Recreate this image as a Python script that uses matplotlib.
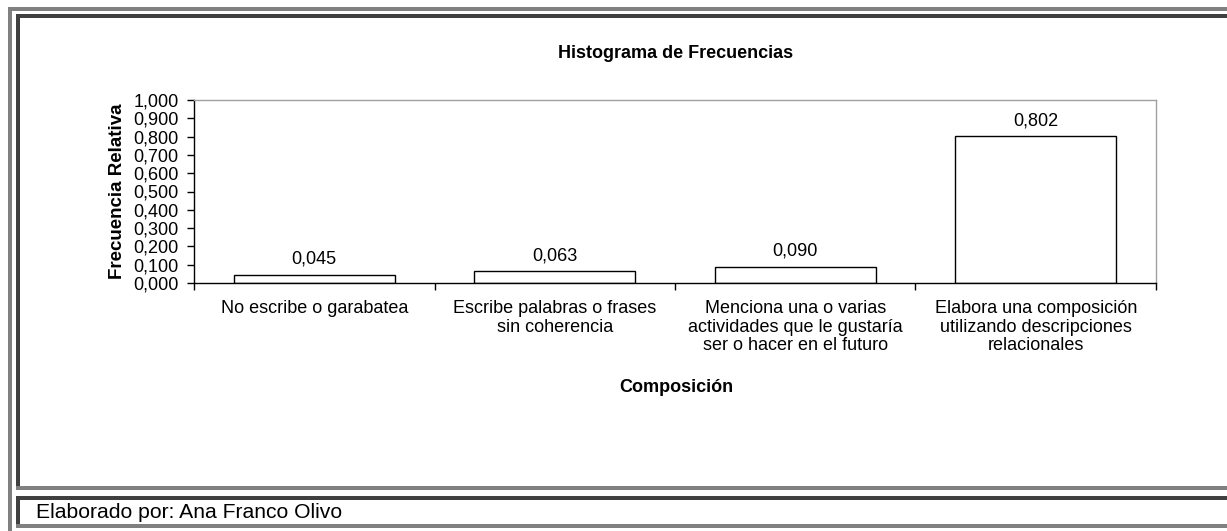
import matplotlib
matplotlib.use("Agg")
import matplotlib.pyplot as plt
from matplotlib.patches import Rectangle
from matplotlib.ticker import FuncFormatter

# data
categorias = [
    "No escribe o garabatea",
    "Escribe palabras o frases\nsin coherencia",
    "Menciona una o varias\nactividades que le gustaría\nser o hacer en el futuro",
    "Elabora una composición\nutilizando descripciones\nrelacionales",
]
frecuencia_relativa = [0.045, 0.063, 0.090, 0.802]
y_ticks = [0.0, 0.1, 0.2, 0.3, 0.4, 0.5, 0.6, 0.7, 0.8, 0.9, 1.0]

plt.rcParams['font.family'] = ['Liberation Sans', 'DejaVu Sans']

W, H = 1227, 531
fig = plt.figure(figsize=(W / 100, H / 100), dpi=100)
fig.patch.set_facecolor("white")

# axes placed in pixel coordinates of the reference
left, right, top, bottom = 194, 1156, 100, 283
ax = fig.add_axes([left / W, 1 - bottom / H, (right - left) / W, (bottom - top) / H])

x = list(range(len(categorias)))
bars = ax.bar(x, frecuencia_relativa, width=0.67, color="white",
              edgecolor="black", linewidth=1.0)

for xi, v in zip(x, frecuencia_relativa):
    ax.annotate(f"{v:.3f}".replace(".", ","), (xi, v), xytext=(0, 5),
                textcoords="offset points", ha="center", va="bottom", fontsize=13)

ax.set_xlim(-0.5, len(categorias) - 0.5)
ax.set_ylim(0, 1.0)
ax.set_yticks(y_ticks)
ax.yaxis.set_major_formatter(FuncFormatter(lambda v, p: f"{v:.3f}".replace(".", ",")))

# boundary ticks (major) and category labels (minor, no marks)
ax.set_xticks([i - 0.5 for i in range(len(categorias) + 1)])
ax.set_xticklabels([])
ax.set_xticks(x, minor=True)
ax.set_xticklabels(categorias, minor=True, fontsize=13, linespacing=1.1)
ax.tick_params(axis="x", which="minor", length=0, pad=12.5)
ax.tick_params(axis="x", which="major", direction="out", length=5, width=1)
ax.tick_params(axis="y", direction="out", length=5, width=1, labelsize=13, pad=6)

for s in ["top", "right"]:
    ax.spines[s].set_color("#a0a0a0")
    ax.spines[s].set_linewidth(1.0)
for s in ["left", "bottom"]:
    ax.spines[s].set_color("black")
    ax.spines[s].set_linewidth(1.0)

ax.set_ylabel("Frecuencia Relativa", fontsize=13.5, fontweight="bold", labelpad=5)
fig.text(676 / W, 1 - 388 / H, "Composición", fontsize=13, fontweight="bold",
         ha="center", va="center")
fig.text(676 / W, 1 - 53 / H, "Histograma de Frecuencias", fontsize=13,
         fontweight="bold", ha="center", va="center")
fig.text(36 / W, 1 - 513 / H, "Elaborado por: Ana Franco Olivo", fontsize=15.2,
         ha="left", va="center")


# frame lines (pixel boxes)
def band(x0, y0, x1, y1, color):
    fig.add_artist(Rectangle((x0 / W, 1 - y1 / H), (x1 - x0) / W, (y1 - y0) / H,
                             transform=fig.transFigure, color=color, lw=0))


gray, dark = "#808080", "#404040"
band(8, 7, W, 11, gray)
band(8, 7, 12, H, gray)
band(16, 14, W, 18, dark)
band(16, 14, 20, 486, dark)
band(16, 486, W, 490, gray)
band(16, 496, W, 500, dark)
band(16, 496, 20, 524, dark)
band(16, 524, W, 528, gray)

fig.savefig("out.png", dpi=100)
